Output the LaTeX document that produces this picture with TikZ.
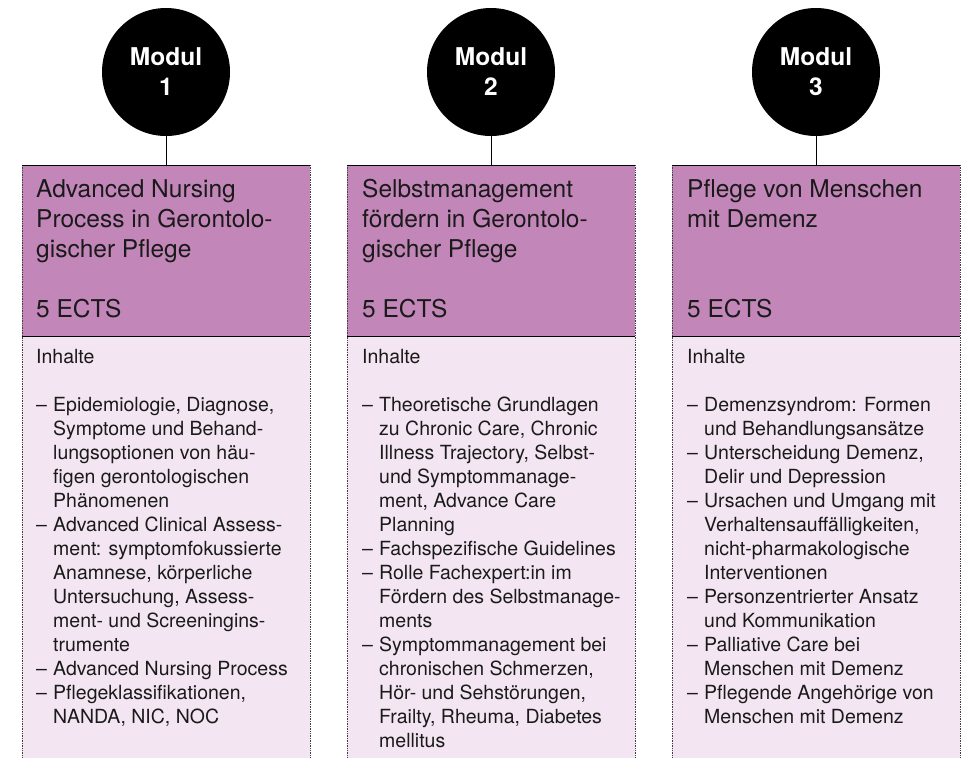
\documentclass[tikz,border=0pt]{standalone}
\usepackage{fontspec}
\setmainfont{TeX Gyre Heros}
\definecolor{hdr}{RGB}{195,134,185}
\definecolor{bdy}{RGB}{243,230,242}
\definecolor{ink}{RGB}{26,26,26}
\newcommand{\bl}{\makebox[17pt][l]{–}}
\newcommand{\ind}{\hspace*{17pt}}
\newcommand{\tstrut}{\rule{0pt}{20pt}}
\newcommand{\bstrut}{\rule{0pt}{16pt}}
\begin{document}
\begin{tikzpicture}[x=1pt,y=-1pt,
  hdrbox/.style={fill=hdr, draw=none, minimum width=288pt, minimum height=171pt, anchor=north west, inner sep=0pt, outer sep=0pt},
  bdybox/.style={fill=bdy, draw=none, minimum width=288pt, minimum height=422pt, anchor=north west, inner sep=0pt, outer sep=0pt},
  modul/.style={circle, fill=black, minimum size=128pt, inner sep=0pt, outer sep=0pt, text=white, font=\fontsize{24.5}{30}\selectfont\bfseries, align=center},
  titletext/.style={anchor=north west, inner sep=0pt, align=left, text=ink, font=\fontsize{24.5}{30}\selectfont},
  bodytext/.style={anchor=north west, inner sep=0pt, align=left, text=ink, font=\fontsize{19.5}{24}\selectfont},
  link/.style={draw=black, line width=1pt},
  rulesolid/.style={draw=black, line width=1pt},
  sideline/.style={draw=black!75, densely dotted, line width=0.7pt}]
\useasboundingbox (0,0) rectangle (964,758);

% boxes
\node[hdrbox] (h1) at (22,165) {};
\node[bdybox] (b1) at (22,336) {};
\node[hdrbox] (h2) at (347,165) {};
\node[bdybox] (b2) at (347,336) {};
\node[hdrbox] (h3) at (672,165) {};
\node[bdybox] (b3) at (672,336) {};

% circles
\node[modul] (m1) at (166,72) {Modul\\1};
\node[modul] (m2) at (491,72) {Modul\\2};
\node[modul] (m3) at (816,72) {Modul\\3};

\foreach \i in {1,2,3}{
  \draw[link] (m\i.south) -- (h\i.north);
  \draw[sideline] (h\i.north west) -- (b\i.south west);
  \draw[sideline] (h\i.north east) -- (b\i.south east);
  \draw[rulesolid] (h\i.north west) -- (h\i.north east);
  \draw[rulesolid] (h\i.south west) -- (h\i.south east);
}

% titles
\node[titletext] (t1) at (36,177) {\tstrut Advanced Nursing\\Process in Gerontolo-\\gischer Pflege\\[30pt]5 ECTS};
\node[titletext] (t2) at (362,177) {\tstrut Selbstmanagement\\fördern in Gerontolo-\\gischer Pflege\\[30pt]5 ECTS};
\node[titletext] (t3) at (687,177) {\tstrut Pflege von Menschen\\mit Demenz\\[60pt]5 ECTS};

% bodies
\node[bodytext] (c1) at (36,347) {\bstrut Inhalte\\[24pt]
\bl Epidemiologie, Diagnose,\\
\ind Symptome und Behand-\\
\ind lungsoptionen von häu-\\
\ind figen gerontologischen\\
\ind Phänomenen\\
\bl Advanced Clinical Assess-\\
\ind ment: symptomfokussierte\\
\ind Anamnese, körperliche\\
\ind Untersuchung, Assess-\\
\ind ment- und Screeningins-\\
\ind trumente\\
\bl Advanced Nursing Process\\
\bl Pflegeklassifikationen,\\
\ind NANDA, NIC, NOC};

\node[bodytext] (c2) at (362,347) {\bstrut Inhalte\\[24pt]
\bl Theoretische Grundlagen\\
\ind zu Chronic Care, Chronic\\
\ind Illness Trajectory, Selbst-\\
\ind und Symptommanage-\\
\ind ment, Advance Care\\
\ind Planning\\
\bl Fachspezifische Guidelines\\
\bl Rolle Fachexpert:in im\\
\ind Fördern des Selbstmanage-\\
\ind ments\\
\bl Symptommanagement bei\\
\ind chronischen Schmerzen,\\
\ind Hör- und Sehstörungen,\\
\ind Frailty, Rheuma, Diabetes\\
\ind mellitus};

\node[bodytext] (c3) at (687,347) {\bstrut Inhalte\\[24pt]
\bl Demenzsyndrom: Formen\\
\ind und Behandlungsansätze\\
\bl Unterscheidung Demenz,\\
\ind Delir und Depression\\
\bl Ursachen und Umgang mit\\
\ind Verhaltensauffälligkeiten,\\
\ind nicht-pharmakologische\\
\ind Interventionen\\
\bl Personzentrierter Ansatz\\
\ind und Kommunikation\\
\bl Palliative Care bei\\
\ind Menschen mit Demenz\\
\bl Pflegende Angehörige von\\
\ind Menschen mit Demenz};
\end{tikzpicture}
\end{document}
